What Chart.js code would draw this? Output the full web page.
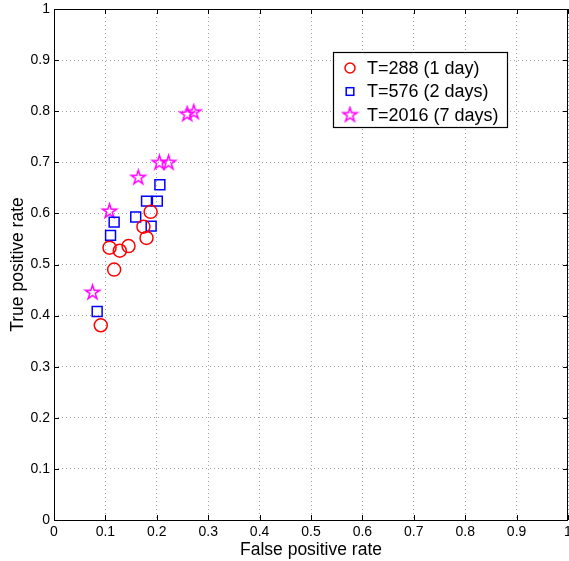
<!DOCTYPE html>
<html><head><meta charset="utf-8">
<script src="https://cdn.jsdelivr.net/npm/chart.js@4.4.1/dist/chart.umd.min.js"></script>
<style>html,body{margin:0;padding:0;background:#fff;}#wrap{width:569px;height:561px;}</style>
</head><body><div id="wrap"><canvas id="c" width="569" height="561"></canvas></div>
<script>
// ---- data ----
const seriesLabels = ['T=288 (1 day)', 'T=576 (2 days)', 'T=2016 (7 days)'];
const fpr288 = [0.108, 0.128, 0.145, 0.117, 0.091, 0.174, 0.180, 0.188];
const tpr288 = [0.533, 0.527, 0.536, 0.490, 0.381, 0.574, 0.552, 0.603];
const fpr576 = [0.206, 0.180, 0.201, 0.159, 0.117, 0.189, 0.110, 0.084];
const tpr576 = [0.656, 0.624, 0.624, 0.593, 0.583, 0.575, 0.557, 0.408];
const fpr2016 = [0.205, 0.223, 0.164, 0.108, 0.075, 0.259, 0.272];
const tpr2016 = [0.699, 0.699, 0.670, 0.604, 0.445, 0.794, 0.798];
const tickValues = [0, 0.1, 0.2, 0.3, 0.4, 0.5, 0.6, 0.7, 0.8, 0.9, 1];
const xTitle = 'False positive rate';
const yTitle = 'True positive rate';

const pts = (xs, ys) => xs.map((x, i) => ({x: x, y: ys[i]}));

function makeStar(R, color) {
  const size = Math.ceil(2 * R + 4);
  const cv = document.createElement('canvas');
  cv.width = size; cv.height = size;
  const g = cv.getContext('2d');
  const c = size / 2, r = R * 0.382;
  g.beginPath();
  for (let k = 0; k < 10; k++) {
    const a = -Math.PI / 2 + k * Math.PI / 5;
    const rr = k % 2 === 0 ? R : r;
    const px = c + rr * Math.cos(a), py = c + rr * Math.sin(a);
    if (k === 0) g.moveTo(px, py); else g.lineTo(px, py);
  }
  g.closePath();
  g.strokeStyle = color; g.lineWidth = 1.5; g.lineJoin = 'miter';
  g.stroke();
  return cv;
}
const starImg = makeStar(7.5, '#ff00ff');

const FONT = '"Liberation Sans", Arial, Helvetica, sans-serif';
Chart.defaults.font.family = FONT;
Chart.defaults.color = '#000';

const framePlugin = {
  id: 'frame',
  afterDraw(chart) {
    const {ctx, chartArea: a, scales} = chart;
    ctx.save();
    ctx.strokeStyle = '#000';
    ctx.lineWidth = 1;
    const tl = 5;
    ctx.beginPath();
    tickValues.forEach(v => {
      const px = Math.round(scales.x.getPixelForValue(v)) + 0.5;
      ctx.moveTo(px, a.bottom); ctx.lineTo(px, a.bottom - tl);
      ctx.moveTo(px, a.top); ctx.lineTo(px, a.top + tl);
      const py = Math.round(scales.y.getPixelForValue(v)) + 0.5;
      ctx.moveTo(a.left, py); ctx.lineTo(a.left + tl, py);
      ctx.moveTo(a.right, py); ctx.lineTo(a.right - tl, py);
    });
    ctx.stroke();
    ctx.strokeRect(Math.round(a.left) + 0.5, Math.round(a.top) + 0.5,
                   Math.round(a.right - a.left) - 1, Math.round(a.bottom - a.top));
    // legend
    const bx = 333.5, by = 52.5, bw = 174, bh = 75;
    ctx.fillStyle = '#fff';
    ctx.fillRect(bx, by, bw, bh);
    ctx.strokeStyle = '#000';
    ctx.lineWidth = 1.2;
    ctx.strokeRect(bx, by, bw, bh);
    const rowsY = [68, 91.5, 115];
    const mx = 350, tx = 367;
    ctx.font = '18px ' + FONT;
    ctx.textBaseline = 'middle';
    ctx.textAlign = 'left';
    chart.data.datasets.forEach((ds, i) => {
      const y = rowsY[i];
      ctx.lineWidth = 1.5;
      ctx.strokeStyle = ds.borderColor;
      if (i === 0) {
        ctx.beginPath(); ctx.arc(mx, y, 5, 0, Math.PI * 2); ctx.stroke();
      } else if (i === 1) {
        ctx.strokeRect(mx - 3.8, y - 3.8, 7.6, 7.6);
      } else {
        ctx.drawImage(starImg, mx - starImg.width / 2, y - starImg.height / 2);
      }
      ctx.fillStyle = '#000';
      ctx.fillText(ds.label, tx, y + 1);
    });
    ctx.restore();
  }
};

const axisCommon = (title, titlePad) => ({
  type: 'linear', min: 0, max: 1,
  grid: { color: '#a0a0a0', lineWidth: 1, drawTicks: false },
  border: { display: false, dash: [1, 3] },
  ticks: {
    stepSize: 0.1,
    font: { size: 14 },
    color: '#000',
    padding: 4,
    callback: v => String(Number(v.toFixed(1)))
  },
  title: { display: true, text: title, font: { size: 17.5 }, color: '#000', padding: titlePad }
});

const xAxis = axisCommon(xTitle, { top: 2, bottom: 0 });
xAxis.afterFit = s => { s.height = 41; s.paddingLeft = 0; s.paddingRight = 0; };
const yAxis = axisCommon(yTitle, { top: 8, bottom: 0 });
yAxis.ticks.padding = 4;
yAxis.afterFit = s => { s.width = 54; s.paddingTop = 0; s.paddingBottom = 0; };

new Chart(document.getElementById('c'), {
  type: 'scatter',
  data: {
    datasets: [
      { label: seriesLabels[0], data: pts(fpr288, tpr288), pointStyle: 'circle',
        pointRadius: 6.5, pointHoverRadius: 6.5, borderWidth: 1.5,
        borderColor: '#ff0000', backgroundColor: 'rgba(0,0,0,0)' },
      { label: seriesLabels[1], data: pts(fpr576, tpr576), pointStyle: 'rect',
        pointRadius: 7, pointHoverRadius: 7, borderWidth: 1.5,
        borderColor: '#0000ff', backgroundColor: 'rgba(0,0,0,0)' },
      { label: seriesLabels[2], data: pts(fpr2016, tpr2016), pointStyle: starImg,
        pointRadius: 8, borderWidth: 1.5,
        borderColor: '#ff00ff', backgroundColor: 'rgba(0,0,0,0)' }
    ]
  },
  options: {
    responsive: false,
    animation: false,
    devicePixelRatio: 1,
    layout: { autoPadding: false, padding: { top: 9, right: 1, left: 0, bottom: 0 } },
    plugins: { legend: { display: false }, tooltip: { enabled: false } },
    scales: { x: xAxis, y: yAxis }
  },
  plugins: [framePlugin]
});
</script>
</body></html>
